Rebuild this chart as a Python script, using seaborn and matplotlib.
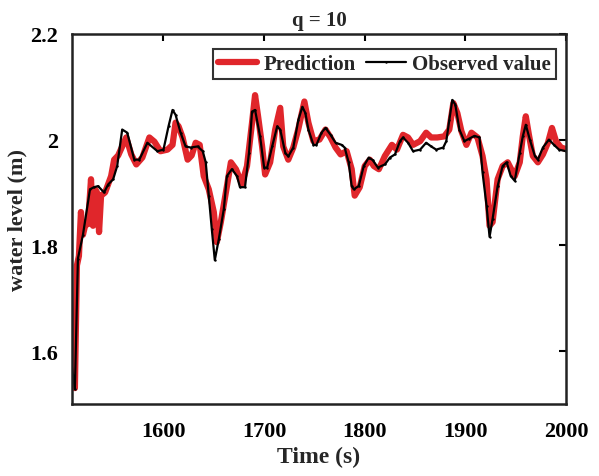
import matplotlib
matplotlib.use("Agg")
import matplotlib.pyplot as plt
import seaborn as sns
import pandas as pd

# ---------------- data ----------------
obs_t = [1508, 1512, 1515, 1520, 1527, 1531, 1535, 1541, 1545, 1550, 1554, 1559, 1564,
         1571, 1576, 1584, 1594, 1600, 1605, 1609, 1612, 1617, 1622, 1627, 1634, 1639,
         1642, 1645, 1648, 1651, 1655, 1660, 1663, 1668, 1673, 1676, 1681, 1685, 1688,
         1691, 1696, 1700, 1703, 1708, 1713, 1716, 1721, 1724, 1729, 1734, 1738, 1741,
         1744, 1749, 1752, 1757, 1761, 1766, 1771, 1777, 1780, 1784, 1787, 1789, 1794,
         1799, 1804, 1808, 1813, 1820, 1825, 1830, 1835, 1838, 1843, 1848, 1855, 1861,
         1866, 1871, 1878, 1881, 1884, 1887, 1890, 1894, 1899, 1904, 1909, 1914, 1917,
         1921, 1924, 1927, 1932, 1937, 1941, 1945, 1949, 1954, 1957, 1960, 1964, 1969,
         1972, 1977, 1983, 1988, 1993, 2000]
obs_v = [1.585, 1.528, 1.775, 1.820, 1.906, 1.910, 1.912, 1.900, 1.915, 1.925, 1.950, 2.019, 2.013,
         1.962, 1.962, 1.994, 1.978, 1.981, 2.025, 2.056, 2.047, 2.013, 1.987, 1.985, 1.987, 1.978,
         1.957, 1.894, 1.831, 1.772, 1.812, 1.869, 1.931, 1.944, 1.931, 1.910, 1.910, 1.975, 2.053,
         2.056, 2.006, 1.947, 1.947, 1.987, 2.025, 2.019, 1.975, 1.968, 1.985, 2.037, 2.062, 2.050,
         2.019, 1.990, 1.990, 2.013, 2.022, 2.009, 1.994, 1.990, 1.985, 1.957, 1.912, 1.906, 1.912,
         1.950, 1.966, 1.961, 1.947, 1.953, 1.966, 1.972, 1.997, 2.004, 1.994, 1.978, 1.981, 1.994,
         1.987, 1.981, 1.985, 1.997, 2.037, 2.075, 2.066, 2.019, 1.997, 2.002, 2.007, 2.004, 1.938,
         1.875, 1.816, 1.850, 1.912, 1.950, 1.957, 1.931, 1.922, 1.975, 2.006, 2.028, 2.000, 1.969,
         1.962, 1.985, 2.000, 1.990, 1.981, 1.978]

pred_t = [1507, 1510, 1512, 1514, 1516, 1518, 1520, 1523, 1525, 1528, 1530, 1532, 1534,
          1536, 1538, 1542, 1548, 1551, 1555, 1559, 1563, 1568, 1573, 1579, 1586, 1591,
          1597, 1604, 1609, 1612, 1615, 1619, 1624, 1628, 1632, 1636, 1640, 1645, 1650,
          1653, 1657, 1662, 1667, 1672, 1678, 1683, 1688, 1691, 1694, 1698, 1701, 1706,
          1711, 1716, 1719, 1724, 1729, 1734, 1740, 1744, 1749, 1755, 1761, 1766, 1771,
          1776, 1782, 1787, 1790, 1795, 1800, 1805, 1809, 1814, 1820, 1827, 1832, 1838,
          1843, 1848, 1855, 1861, 1866, 1872, 1879, 1884, 1888, 1892, 1896, 1901, 1906,
          1912, 1917, 1921, 1924, 1927, 1932, 1937, 1942, 1949, 1954, 1957, 1960, 1963,
          1967, 1972, 1977, 1982, 1986, 1990, 1995, 2000]
pred_v = [1.580, 1.570, 1.530, 1.762, 1.780, 1.863, 1.820, 1.844, 1.840, 1.925, 1.837, 1.906, 1.900,
          1.825, 1.894, 1.900, 1.931, 1.962, 1.970, 1.987, 2.004, 1.972, 1.953, 1.966, 2.004, 1.996,
          1.978, 1.981, 1.990, 2.032, 2.025, 2.004, 1.962, 1.970, 1.994, 1.990, 1.931, 1.906, 1.863,
          1.806, 1.844, 1.900, 1.957, 1.944, 1.916, 1.950, 2.032, 2.084, 2.044, 1.987, 1.934, 1.957,
          2.019, 2.060, 1.987, 1.962, 1.985, 2.020, 2.072, 2.032, 1.997, 2.000, 2.019, 2.004, 1.985,
          1.972, 1.978, 1.944, 1.894, 1.910, 1.950, 1.962, 1.950, 1.944, 1.969, 1.990, 1.981, 2.009,
          2.004, 1.990, 1.997, 2.013, 2.004, 2.004, 2.006, 2.019, 2.069, 2.050, 2.016, 1.990, 2.013,
          2.004, 1.969, 1.925, 1.837, 1.844, 1.925, 1.950, 1.957, 1.931, 1.957, 2.006, 2.044, 2.010,
          1.969, 1.957, 1.972, 1.994, 2.022, 1.997, 1.985, 1.982]

x_ticks = [1600, 1700, 1800, 1900, 2000]
x_tick_labels = ["1600", "1700", "1800", "1900", "2000"]
y_ticks = [1.6, 1.8, 2.0, 2.2]
y_tick_labels = ["1.6", "1.8", "2", "2.2"]

title = "q = 10"
x_label = "Time (s)"
y_label = "water level (m)"
pred_label = "Prediction"
obs_label = "Observed value"

# ---------------- plotting ----------------
sns.set_theme(style="white")
plt.rcParams["font.family"] = ["Liberation Serif", "DejaVu Serif"]
plt.rcParams["font.weight"] = "bold"

pred_df = pd.DataFrame({"t": pred_t, "v": pred_v})
obs_df = pd.DataFrame({"t": obs_t, "v": obs_v})

fig = plt.figure(figsize=(5.99, 4.77), dpi=100)
ax = fig.add_axes([0.120, 0.151, 0.825, 0.776])

sns.lineplot(data=pred_df, x="t", y="v", ax=ax, color="#e0262b", lw=4.5,
             label=pred_label, sort=False, estimator=None)
sns.lineplot(data=obs_df, x="t", y="v", ax=ax, color="black", lw=1.6,
             marker=".", markersize=3.5, markeredgewidth=0,
             label=obs_label, sort=False, estimator=None)

ax.set_xlim(1509, 2000)
ax.set_ylim(1.5, 2.2)
ax.set_xticks(x_ticks)
ax.set_xticklabels(x_tick_labels)
ax.set_yticks(y_ticks)
ax.set_yticklabels(y_tick_labels)

ax.tick_params(direction="in", length=5, width=1.5, top=True, right=True,
               labelsize=16, colors="black")
ax.tick_params(axis="x", pad=12)
ax.tick_params(axis="y", pad=10)
for lab in ax.get_xticklabels() + ax.get_yticklabels():
    lab.set_fontweight("bold")
for sp in ax.spines.values():
    sp.set_linewidth(1.8)
    sp.set_color("#222222")

ax.set_xlabel(x_label, fontsize=17, fontweight="bold", labelpad=4)
ax.set_ylabel(y_label, fontsize=16, fontweight="bold", labelpad=2)
ax.set_title(title, fontsize=15, fontweight="bold", pad=6)

leg = ax.legend(loc="upper right", bbox_to_anchor=(0.98, 0.96), ncol=2,
                fontsize=15, frameon=True, fancybox=False, handlelength=1.9,
                columnspacing=0.5, handletextpad=0.3, borderpad=0.25,
                borderaxespad=0.0)
leg.get_frame().set_edgecolor("black")
leg.get_frame().set_linewidth(1.5)
for txt in leg.get_texts():
    txt.set_fontweight("bold")

fig.savefig("out.png", dpi=100)
